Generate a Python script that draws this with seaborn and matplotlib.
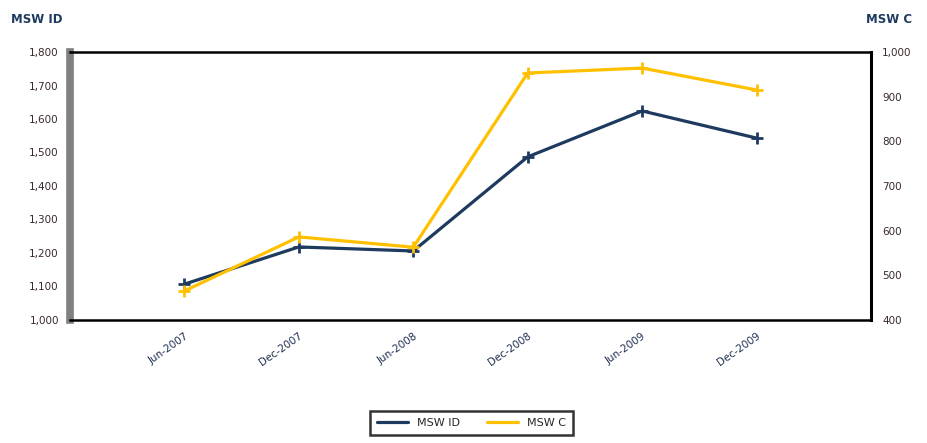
import matplotlib
matplotlib.use("Agg")
import matplotlib.pyplot as plt
from matplotlib.lines import Line2D
import seaborn as sns
import pandas as pd
from matplotlib.ticker import FuncFormatter

# Period labels along the x axis
periods = ["Jun-2007", "Dec-2007", "Jun-2008", "Dec-2008", "Jun-2009", "Dec-2009"]
# Left-axis series (navy) and right-axis series (gold)
msw_id = [1107, 1218, 1206, 1487, 1624, 1543]
msw_c = [465, 586, 563, 953, 964, 915]

NAVY = "#1f3a5f"
GOLD = "#ffc000"

sns.set_theme(style="white")
plt.rcParams["font.family"] = ["DejaVu Sans"]

df = pd.DataFrame({"pos": range(len(periods)), "MSW ID": msw_id, "MSW C": msw_c})

fig = plt.figure(figsize=(9.28, 4.43), dpi=100)
ax = fig.add_axes([0.0754, 0.2777, 0.8632, 0.6049])
ax2 = ax.twinx()

sns.lineplot(data=df, x="pos", y="MSW ID", ax=ax, color=NAVY, linewidth=2.3,
             marker="+", markersize=8, markeredgewidth=2, markeredgecolor=NAVY,
             legend=False)
sns.lineplot(data=df, x="pos", y="MSW C", ax=ax2, color=GOLD, linewidth=2.3,
             marker="+", markersize=8, markeredgewidth=2, markeredgecolor=GOLD,
             legend=False)

ax.set_xlim(-1, 6)
ax.set_ylim(1000, 1800)
ax2.set_ylim(400, 1000)
ax.set_yticks(range(1000, 1801, 100))
ax2.set_yticks(range(400, 1001, 100))
fmt = FuncFormatter(lambda v, _: f"{int(v):,}")
ax.yaxis.set_major_formatter(fmt)
ax2.yaxis.set_major_formatter(fmt)

ax.set_xticks(range(len(periods)))
ax.set_xticklabels(periods, rotation=35, ha="right", rotation_mode="anchor",
                   fontsize=7.5, color="#1f2f4f")
ax.tick_params(axis="x", length=0, pad=8)
ax.tick_params(axis="y", length=0, labelsize=7.5, labelcolor="#3a2a2a", pad=8)
ax2.tick_params(axis="y", length=0, labelsize=7.5, labelcolor="#3a2a2a", pad=8)

ax.set_xlabel("")
ax.set_ylabel("")
ax2.set_ylabel("")

# Frame: heavy grey value-axis bar on the left, thin black elsewhere
for a in (ax, ax2):
    for s in a.spines.values():
        s.set_visible(False)
ax.spines["left"].set_visible(True)
ax.spines["left"].set_color("#808080")
ax.spines["left"].set_linewidth(5.5)
for side in ("top", "bottom"):
    ax.spines[side].set_visible(True)
    ax.spines[side].set_color("black")
    ax.spines[side].set_linewidth(1.8)
ax2.spines["right"].set_visible(True)
ax2.spines["right"].set_color("black")
ax2.spines["right"].set_linewidth(2.2)

fig.text(0.012, 0.955, "MSW ID", fontsize=8.5, fontweight="bold", color=NAVY,
         ha="left", va="center")
fig.text(0.983, 0.955, "MSW C", fontsize=8.5, fontweight="bold", color=NAVY,
         ha="right", va="center")

handles = [Line2D([], [], color=NAVY, linewidth=2.3),
           Line2D([], [], color=GOLD, linewidth=2.3)]
leg = fig.legend(handles, ["MSW ID", "MSW C"], loc="center",
                 bbox_to_anchor=(0.508, 0.045), ncol=2, frameon=True,
                 fancybox=False, fontsize=8, handlelength=2.8,
                 columnspacing=2.5, borderpad=0.6)
leg.get_frame().set_edgecolor("black")
leg.get_frame().set_linewidth(1.8)

fig.savefig("out.png", dpi=100)
